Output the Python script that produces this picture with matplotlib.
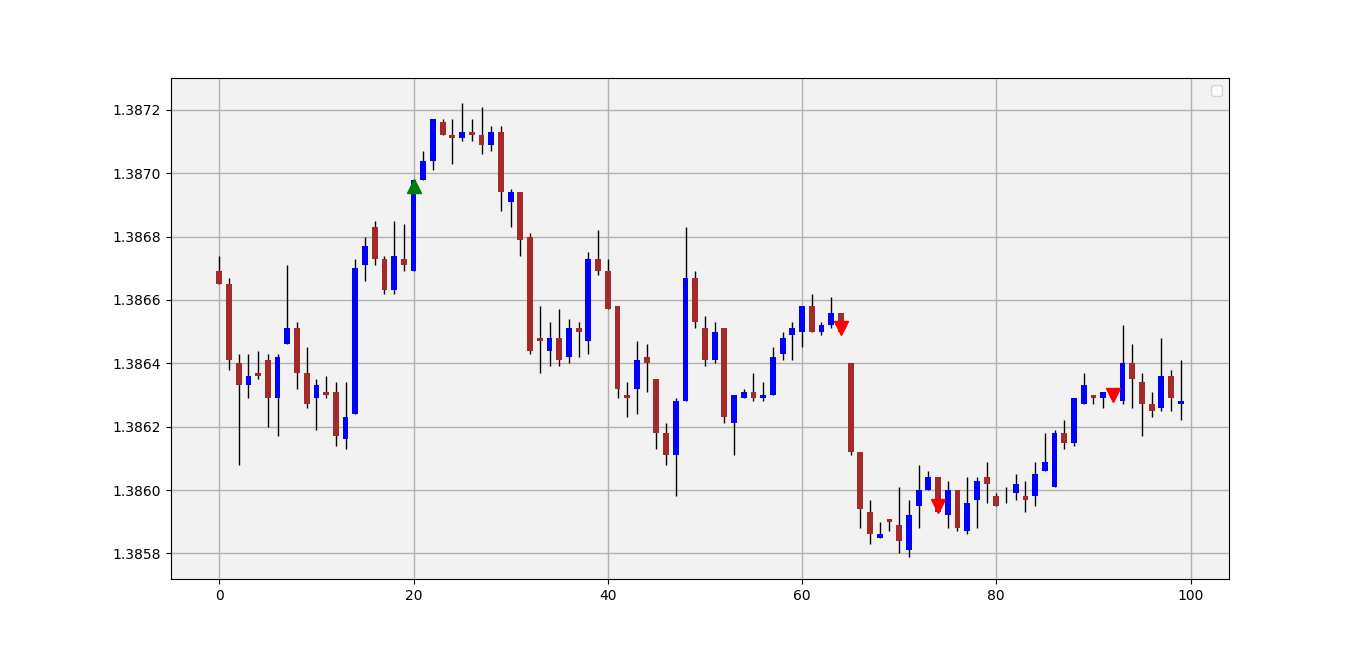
import matplotlib
matplotlib.use("Agg")
import matplotlib.pyplot as plt
import numpy as np

opens = [1.38669,1.38665,1.38640,1.38633,1.38637,1.38641,1.38629,1.38646,1.38651,1.38637,
         1.38629,1.38631,1.38631,1.38616,1.38624,1.38671,1.38683,1.38673,1.38663,1.38673,
         1.38669,1.38698,1.38704,1.38716,1.38712,1.38711,1.38713,1.38712,1.38709,1.38713,
         1.38691,1.38694,1.38680,1.38648,1.38644,1.38648,1.38642,1.38651,1.38647,1.38673,
         1.38669,1.38658,1.38630,1.38632,1.38642,1.38635,1.38618,1.38611,1.38628,1.38667,
         1.38651,1.38641,1.38651,1.38621,1.38629,1.38631,1.38629,1.38630,1.38643,1.38649,
         1.38650,1.38658,1.38650,1.38652,1.38656,1.38640,1.38612,1.38593,1.38585,1.38591,
         1.38589,1.38581,1.38595,1.38600,1.38604,1.38592,1.38600,1.38587,1.38597,1.38604,
         1.38598,1.38598,1.38599,1.38598,1.38598,1.38606,1.38601,1.38618,1.38615,1.38627,
         1.38630,1.38629,1.38631,1.38628,1.38640,1.38634,1.38627,1.38626,1.38636,1.38627]
highs = [1.38674,1.38667,1.38643,1.38643,1.38644,1.38643,1.38643,1.38671,1.38653,1.38645,
         1.38635,1.38636,1.38634,1.38634,1.38673,1.38680,1.38685,1.38674,1.38685,1.38684,
         1.38698,1.38707,1.38717,1.38717,1.38717,1.38722,1.38717,1.38721,1.38715,1.38715,
         1.38695,1.38694,1.38681,1.38658,1.38653,1.38657,1.38654,1.38653,1.38675,1.38682,
         1.38673,1.38658,1.38634,1.38647,1.38646,1.38635,1.38621,1.38629,1.38683,1.38669,
         1.38655,1.38653,1.38651,1.38630,1.38632,1.38637,1.38634,1.38645,1.38650,1.38653,
         1.38658,1.38662,1.38653,1.38661,1.38656,1.38640,1.38612,1.38597,1.38590,1.38591,
         1.38601,1.38597,1.38608,1.38606,1.38604,1.38603,1.38600,1.38604,1.38604,1.38609,
         1.38599,1.38601,1.38605,1.38603,1.38609,1.38618,1.38619,1.38622,1.38629,1.38637,
         1.38630,1.38631,1.38631,1.38652,1.38646,1.38637,1.38631,1.38648,1.38638,1.38641]
lows = [1.38665,1.38638,1.38608,1.38629,1.38635,1.38620,1.38617,1.38646,1.38632,1.38626,
        1.38619,1.38629,1.38614,1.38613,1.38624,1.38666,1.38671,1.38662,1.38662,1.38669,
        1.38669,1.38698,1.38701,1.38712,1.38703,1.38710,1.38710,1.38706,1.38707,1.38688,
        1.38683,1.38674,1.38643,1.38637,1.38639,1.38639,1.38640,1.38642,1.38643,1.38668,
        1.38657,1.38629,1.38623,1.38624,1.38631,1.38613,1.38608,1.38598,1.38628,1.38651,
        1.38639,1.38640,1.38621,1.38611,1.38629,1.38628,1.38628,1.38630,1.38641,1.38641,
        1.38645,1.38650,1.38649,1.38651,1.38650,1.38611,1.38588,1.38583,1.38585,1.38587,
        1.38580,1.38579,1.38588,1.38600,1.38593,1.38588,1.38587,1.38586,1.38588,1.38596,
        1.38595,1.38596,1.38597,1.38593,1.38595,1.38606,1.38601,1.38613,1.38614,1.38627,
        1.38627,1.38626,1.38628,1.38627,1.38626,1.38617,1.38623,1.38625,1.38625,1.38622]
closes = [1.38665,1.38641,1.38633,1.38636,1.38636,1.38629,1.38642,1.38651,1.38637,1.38627,
          1.38633,1.38630,1.38617,1.38623,1.38670,1.38677,1.38673,1.38663,1.38674,1.38671,
          1.38698,1.38704,1.38717,1.38712,1.38711,1.38713,1.38712,1.38709,1.38713,1.38694,
          1.38694,1.38679,1.38644,1.38647,1.38648,1.38641,1.38651,1.38650,1.38673,1.38669,
          1.38657,1.38632,1.38629,1.38641,1.38640,1.38618,1.38611,1.38628,1.38667,1.38653,
          1.38641,1.38650,1.38623,1.38630,1.38631,1.38629,1.38630,1.38642,1.38648,1.38651,
          1.38658,1.38650,1.38652,1.38656,1.38650,1.38612,1.38594,1.38586,1.38586,1.38590,
          1.38584,1.38592,1.38600,1.38604,1.38593,1.38600,1.38588,1.38596,1.38603,1.38602,
          1.38595,1.38598,1.38602,1.38597,1.38605,1.38609,1.38618,1.38615,1.38629,1.38633,
          1.38629,1.38631,1.38629,1.38640,1.38635,1.38627,1.38625,1.38636,1.38629,1.38628]

buy_idx = [20]
buy_val = [1.38696]
sell_idx = [64, 74, 92]
sell_val = [1.38651, 1.38595, 1.38630]

fig, ax = plt.subplots(figsize=(13.66, 6.51), dpi=100)
ax.set_facecolor("#f2f2f2")
ax.grid(True, color="#b0b0b0", linewidth=1)
ax.set_axisbelow(True)

x = np.arange(len(opens))
o = np.array(opens); c = np.array(closes); h = np.array(highs); l = np.array(lows)
up = c >= o
ax.vlines(x, l, h, color="black", linewidth=1, zorder=2)
colors = np.where(up, "blue", "#a52a2a")
bottoms = np.minimum(o, c)
heights = np.maximum(np.abs(c - o), 0.000002)
ax.bar(x, heights, bottom=bottoms, width=0.6, color=colors, zorder=3)

ax.plot(buy_idx, buy_val, "^", color="green", markersize=10, zorder=4)
ax.plot(sell_idx, sell_val, "v", color="red", markersize=10, zorder=4)

ax.set_xlim(-5, 104)
ax.set_ylim(1.385718, 1.387300)
ax.set_yticks([1.3858, 1.3860, 1.3862, 1.3864, 1.3866, 1.3868, 1.3870, 1.3872])
ax.set_yticklabels(["%.4f" % v for v in [1.3858, 1.3860, 1.3862, 1.3864, 1.3866, 1.3868, 1.3870, 1.3872]])
ax.set_xticks([0, 20, 40, 60, 80, 100])
ax.legend(handles=[], loc="upper right")

fig.savefig("out.png", dpi=100)
